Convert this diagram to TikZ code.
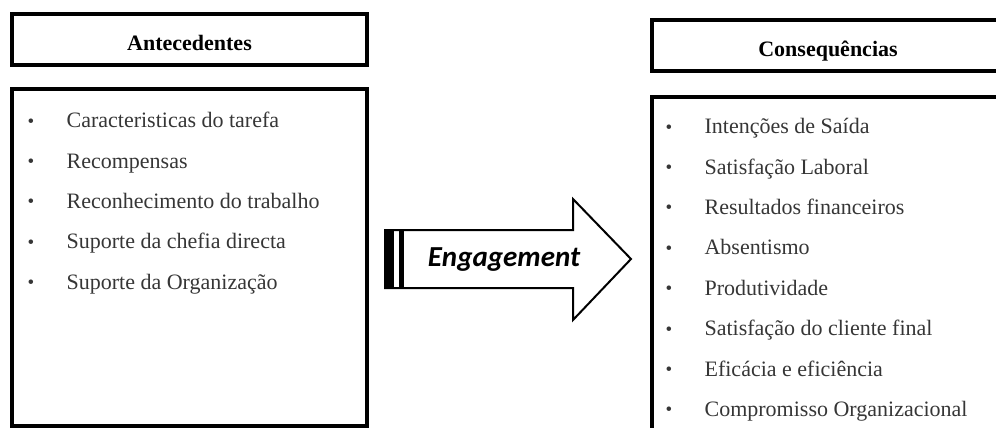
\documentclass[tikz,border=0pt]{standalone}
\usepackage{fontspec}
\setmainfont{Liberation Serif}
\newfontfamily\engfont{Carlito}
\usetikzlibrary{positioning}
\definecolor{itemgray}{HTML}{363636}
\newcommand{\bul}[1]{\makebox[39pt][l]{\raisebox{0.5pt}{\fontsize{19}{19}\selectfont\textbullet}}#1}
\tikzset{
  headbox/.style={draw=black, line width=3.2pt, minimum height=51pt, inner sep=0pt,
                  text height=23pt, text depth=0pt, font=\fontsize{22}{24}\selectfont\bfseries},
  listbox/.style={draw=black, line width=3.2pt, inner sep=0pt},
  item/.style={text=itemgray, inner sep=0pt, text height=16pt, text depth=5pt,
               font=\fontsize{22}{24}\selectfont},
}
\begin{document}
\begin{tikzpicture}[x=1pt, y=-1pt, node distance=19pt]
\useasboundingbox (0,0) rectangle (996,428);
\clip (0,0) rectangle (996,428);
% left side
\node[headbox, minimum width=355pt] (antbox) at (189.5,39.5) {Antecedentes};
\node[listbox, minimum width=355pt, minimum height=337pt] (antlist) at (189.5,257.5) {};
\node[item, below right=24pt and 17pt of antlist.north west] (a1) {\bul{Caracteristicas do tarefa}};
\node[item, below=of a1.south west, anchor=north west] (a2) {\bul{Recompensas}};
\node[item, below=of a2.south west, anchor=north west] (a3) {\bul{Reconhecimento do trabalho}};
\node[item, below=of a3.south west, anchor=north west] (a4) {\bul{Suporte da chefia directa}};
\node[item, below=of a4.south west, anchor=north west] (a5) {\bul{Suporte da Organização}};
% right side
\node[headbox, minimum width=352pt] (consbox) at (828,45.5) {Consequências};
\node[listbox, minimum width=352pt, minimum height=345pt] (conslist) at (828,269.5) {};
\node[item, below right=22pt and 15pt of conslist.north west] (c1) {\bul{Intenções de Saída}};
\node[item, below=of c1.south west, anchor=north west] (c2) {\bul{Satisfação Laboral}};
\node[item, below=of c2.south west, anchor=north west] (c3) {\bul{Resultados financeiros}};
\node[item, below=of c3.south west, anchor=north west] (c4) {\bul{Absentismo}};
\node[item, below=of c4.south west, anchor=north west] (c5) {\bul{Produtividade}};
\node[item, below=of c5.south west, anchor=north west] (c6) {\bul{Satisfação do cliente final}};
\node[item, below=of c6.south west, anchor=north west] (c7) {\bul{Eficácia e eficiência}};
\node[item, below=of c7.south west, anchor=north west] (c8) {\bul{Compromisso Organizacional}};
% engagement arrow
\draw[line width=2pt, line join=miter, fill=white]
  (385,230) -- (573,230) -- (573,199) -- (631,259) -- (573,320) -- (573,288) -- (385,288) -- cycle;
\fill (385,230) rectangle (394,288);
\fill (399,230) rectangle (404,288);
\node[font=\engfont\fontsize{29}{30}\selectfont\bfseries\itshape] (eng) at (504,260) {Engagement};
\end{tikzpicture}
\end{document}
